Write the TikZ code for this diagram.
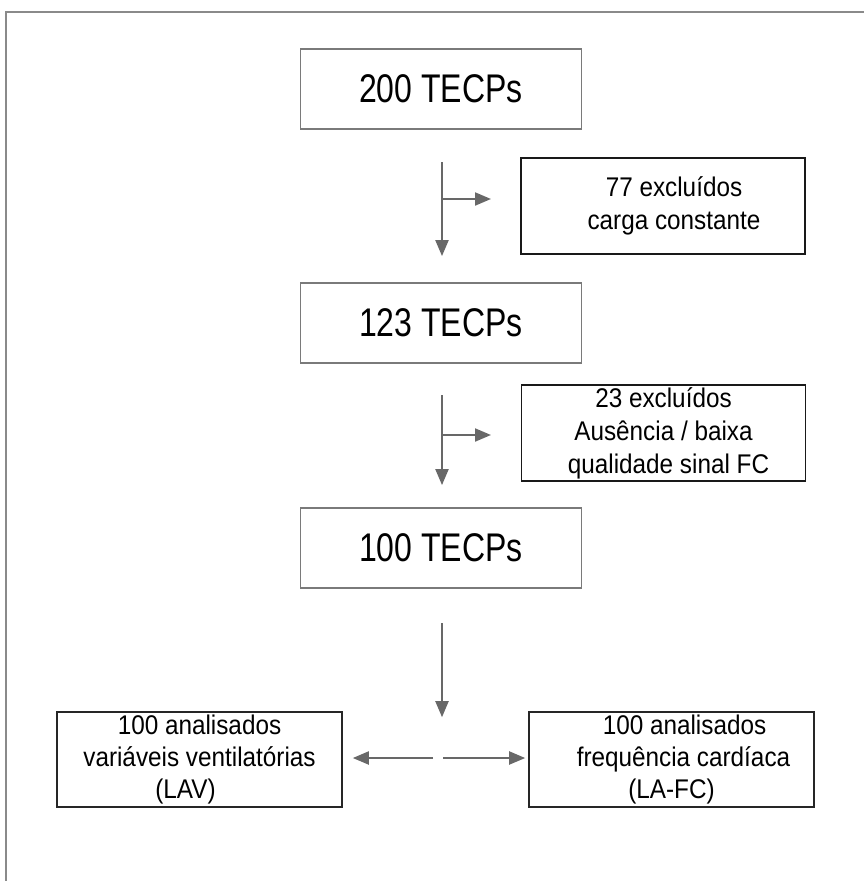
\documentclass[tikz,border=0pt]{standalone}
\usepackage{xcolor}
\usepackage{fontspec}
\setmainfont{Liberation Sans}
\newfontfamily\bigfnt[FakeStretch=0.8]{Liberation Sans}
\newfontfamily\smallfnt[FakeStretch=0.9]{Liberation Sans}
\usepackage{tikz}
\usetikzlibrary{arrows.meta}

\definecolor{framegray}{HTML}{8A8A8A}
\definecolor{boxgray}{HTML}{7A7A7A}
\definecolor{arrowgray}{HTML}{686868}

\tikzset{
    mainbox/.style={draw=boxgray, line width=1.8pt, minimum width=281pt,
      minimum height=80pt, inner sep=0pt,
      font=\bigfnt\fontsize{40}{48}\selectfont},
    exclbox/.style={draw=black!90, line width=1.4pt, minimum width=284pt,
      minimum height=96pt, inner sep=0pt, align=center,
      font=\smallfnt\fontsize{27}{33}\selectfont},
    resbox/.style={draw=black!85, line width=1.6pt, minimum width=285pt,
      minimum height=95pt, inner sep=0pt, align=center,
      font=\smallfnt\fontsize{27}{32}\selectfont},
    flow/.style={draw=arrowgray, line width=2pt,
      -{Triangle[length=16pt,width=13pt]}}
}

\begin{document}
\begin{tikzpicture}[x=1pt, y=-1pt]
    \useasboundingbox (0,0) rectangle (864,881);

    % Frame
    \draw[framegray, line width=2pt] (6,881) -- (6,12) -- (864,12);

    % Boxes
    \node[mainbox] (tecp1) at (441,89) {200 TECPs};
    \node[exclbox] (excl1) at (663,206)
      {\hspace*{22pt}77 excluídos\\ \hspace*{22pt}carga constante};
    \node[mainbox] (tecp2) at (441,323) {123 TECPs};
    \node[exclbox] (excl2) at (663.5,433)
      {23 excluídos\\ Ausência / baixa\\ \hspace*{10pt}qualidade sinal FC};
    \node[mainbox] (tecp3) at (441,548) {100 TECPs};
    \node[resbox] (lav) at (199.5,759.5)
      {100 analisados\\ variáveis ventilatórias\\ \hspace*{-28pt}(LAV)};
    \node[resbox] (lafc) at (671.5,759.5)
      {\hspace*{26pt}100 analisados\\ \hspace*{24pt}frequência cardíaca\\ (LA-FC)};

    % Arrows
    \coordinate (down1) at (442,162);
    \coordinate (split1) at (442,199);
    \coordinate (side1) at (491,199);
    \coordinate (down2) at (442,395);
    \coordinate (split2) at (442,435);
    \coordinate (side2) at (491,435);
    \coordinate (down3) at (442,623);
    \coordinate (left3) at (433,758);
    \coordinate (right3) at (443,758);

    \draw[flow, shorten >=26pt] (down1) -- (down1 |- tecp2.north);
    \draw[flow] (split1) -- (side1);
    \draw[flow, shorten >=22pt] (down2) -- (down2 |- tecp3.north);
    \draw[flow] (split2) -- (side2);
    \draw[flow, shorten >=-6pt] (down3) -- (down3 |- lav.north);
    \draw[flow, shorten >=10pt] (left3) -- (lav.east |- left3);
    \draw[flow, shorten >=3pt] (right3) -- (lafc.west |- right3);
\end{tikzpicture}
\end{document}
